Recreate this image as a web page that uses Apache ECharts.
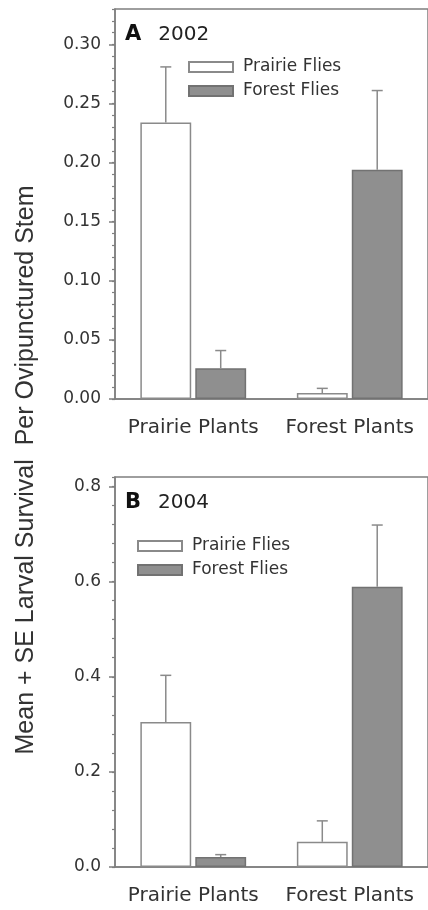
<!DOCTYPE html>
<html>
<head>
<meta charset="utf-8">
<title>Larval survival</title>
<script src="https://cdn.jsdelivr.net/npm/echarts@6/dist/echarts.min.js"></script>
<style>
  html, body { margin: 0; padding: 0; background: #fff; }
  #chart { width: 428px; height: 910px; }
</style>
</head>
<body>
<div id="chart"></div>
<script>
// categories / legend
const categories = ['Prairie Plants', 'Forest Plants'];
const flyNames = ['Prairie Flies', 'Forest Flies'];

// A 2002 : mean and SE
const prairieFlies2002 = [0.234, 0.005];
const prairieFliesSE2002 = [0.047, 0.004];
const forestFlies2002 = [0.026, 0.194];
const forestFliesSE2002 = [0.015, 0.067];

// B 2004 : mean and SE
const prairieFlies2004 = [0.305, 0.053];
const prairieFliesSE2004 = [0.098, 0.044];
const forestFlies2004 = [0.021, 0.589];
const forestFliesSE2004 = [0.005, 0.130];

// tick labels
const yTicks2002 = [0, 0.05, 0.1, 0.15, 0.2, 0.25, 0.3];
const yTicks2004 = [0, 0.2, 0.4, 0.6, 0.8];

const FONT = 'DejaVu Sans';
const AXIS_COLOR = '#7f7f7f';
const TEXT_COLOR = '#333';
const BAR_W = 0.325; // fraction of the category band
const BAR_GAP = 0.08; // fraction of bar width

const panels = [
  { top: 9, height: 390, max: 0.33, interval: 0.05, minor: 0.01, ticks: yTicks2002, digits: 2,
    prairie: prairieFlies2002, prairieSE: prairieFliesSE2002, forest: forestFlies2002, forestSE: forestFliesSE2002,
    legendLeft: 188, legendTop: 57, label: 'A', year: '2002', titleTop: 23 },
  { top: 477, height: 390, max: 0.82, interval: 0.2, minor: 0.04, ticks: yTicks2004, digits: 1,
    prairie: prairieFlies2004, prairieSE: prairieFliesSE2004, forest: forestFlies2004, forestSE: forestFliesSE2004,
    legendLeft: 137, legendTop: 536, label: 'B', year: '2004', titleTop: 491 }
];

// error bar (mean + SE only), shifted onto its bar in the group
function errorBar(side) {
  return function (params, api) {
    const x = api.value(0);
    const mean = api.value(1);
    const se = api.value(2);
    const band = api.size([1, 0])[0];
    const shift = side * band * BAR_W * (1 + BAR_GAP) / 2;
    const p0 = api.coord([x, mean]);
    const p1 = api.coord([x, mean + se]);
    const cx = p0[0] + shift;
    const style = { stroke: '#8a8a8a', lineWidth: 1.5 };
    return {
      type: 'group',
      children: [
        { type: 'line', shape: { x1: cx, y1: p0[1], x2: cx, y2: p1[1] }, style: style },
        { type: 'line', shape: { x1: cx - 5.5, y1: p1[1], x2: cx + 5.5, y2: p1[1] }, style: style }
      ]
    };
  };
}

const grid = [];
const xAxis = [];
const yAxis = [];
const series = [];
const legend = [];
const title = [];

panels.forEach((p, i) => {
  // main grid with the box
  grid.push({
    left: 115, right: -4, top: p.top, height: p.height,
    show: true, borderColor: AXIS_COLOR, borderWidth: 1.5, backgroundColor: 'transparent'
  });
  xAxis.push({
    gridIndex: i, type: 'category', data: categories,
    axisLine: { lineStyle: { color: AXIS_COLOR, width: 1.5 } },
    axisTick: { alignWithLabel: true, length: 5, lineStyle: { color: AXIS_COLOR, width: 1.5 } },
    axisLabel: { interval: 0, hideOverlap: false, color: TEXT_COLOR, fontFamily: FONT, fontSize: 20, margin: 19 }
  });
  yAxis.push({
    gridIndex: i, type: 'value', min: 0, max: p.max, interval: p.interval,
    axisLine: { show: true, lineStyle: { color: AXIS_COLOR, width: 1.5 } },
    axisTick: { show: true, length: 6, customValues: p.ticks, lineStyle: { color: AXIS_COLOR, width: 1.5 } },
    axisLabel: {
      color: TEXT_COLOR, fontFamily: FONT, fontSize: 17, margin: 14,
      customValues: p.ticks,
      formatter: (v) => Number(v).toFixed(p.digits)
    },
    splitLine: { show: false }
  });
});

// second set of grids, same place, only for the minor ticks
panels.forEach((p, i) => {
  grid.push({ left: 115, right: -4, top: p.top, height: p.height });
  xAxis.push({ gridIndex: 2 + i, type: 'value', min: 0, max: 1, show: false });
  yAxis.push({
    gridIndex: 2 + i, type: 'value', min: 0, max: p.max, interval: p.minor,
    axisLine: { show: false },
    axisTick: { show: true, length: 3, lineStyle: { color: AXIS_COLOR, width: 1.2 } },
    axisLabel: { show: false },
    splitLine: { show: false }
  });
});

panels.forEach((p, i) => {
  series.push({
    name: flyNames[0], type: 'bar', xAxisIndex: i, yAxisIndex: i,
    data: p.prairie, barWidth: (BAR_W * 100) + '%', barGap: (BAR_GAP * 100) + '%',
    itemStyle: { color: '#ffffff', borderColor: '#8a8a8a', borderWidth: 1.5 },
    silent: true
  });
  series.push({
    name: flyNames[1], type: 'bar', xAxisIndex: i, yAxisIndex: i,
    data: p.forest, barWidth: (BAR_W * 100) + '%', barGap: (BAR_GAP * 100) + '%',
    itemStyle: { color: '#8f8f8f', borderColor: '#727272', borderWidth: 1.5 },
    silent: true
  });
  series.push({
    type: 'custom', xAxisIndex: i, yAxisIndex: i, z: 3, silent: true,
    renderItem: errorBar(-1),
    encode: { x: 0, y: 1 },
    data: p.prairie.map((v, k) => [k, v, p.prairieSE[k]])
  });
  series.push({
    type: 'custom', xAxisIndex: i, yAxisIndex: i, z: 3, silent: true,
    renderItem: errorBar(1),
    encode: { x: 0, y: 1 },
    data: p.forest.map((v, k) => [k, v, p.forestSE[k]])
  });

  legend.push({
    data: flyNames, orient: 'vertical', left: p.legendLeft, top: p.legendTop,
    icon: 'rect', itemWidth: 44, itemHeight: 10, itemGap: 4, selectedMode: false, padding: 0,
    textStyle: { color: TEXT_COLOR, fontFamily: FONT, fontSize: 17, lineHeight: 20, padding: [0, 0, 0, 5] }
  });

  title.push({
    left: 125, top: p.titleTop, padding: 0,
    text: '{a|' + p.label + '}{b|' + p.year + '}',
    textStyle: {
      fontWeight: 'normal',
      rich: {
        a: { fontFamily: FONT, fontWeight: 'bold', fontSize: 21, color: '#111', lineHeight: 24, padding: [0, 17, 0, 0] },
        b: { fontFamily: FONT, fontWeight: 'normal', fontSize: 20, color: '#222', lineHeight: 24 }
      }
    }
  });
});

const myChart = echarts.init(document.getElementById('chart'), null, { renderer: 'canvas' });
myChart.setOption({
  animation: false,
  backgroundColor: '#fff',
  title: title,
  legend: legend,
  grid: grid,
  xAxis: xAxis,
  yAxis: yAxis,
  series: series,
  graphic: [{
    type: 'text', x: 26, y: 470, rotation: Math.PI / 2,
    style: {
      text: 'Mean + SE Larval Survival  Per Ovipunctured Stem',
      fontFamily: 'Liberation Sans', fontSize: 25, fill: TEXT_COLOR,
      align: 'center', verticalAlign: 'middle'
    }
  }]
});
</script>
</body>
</html>
